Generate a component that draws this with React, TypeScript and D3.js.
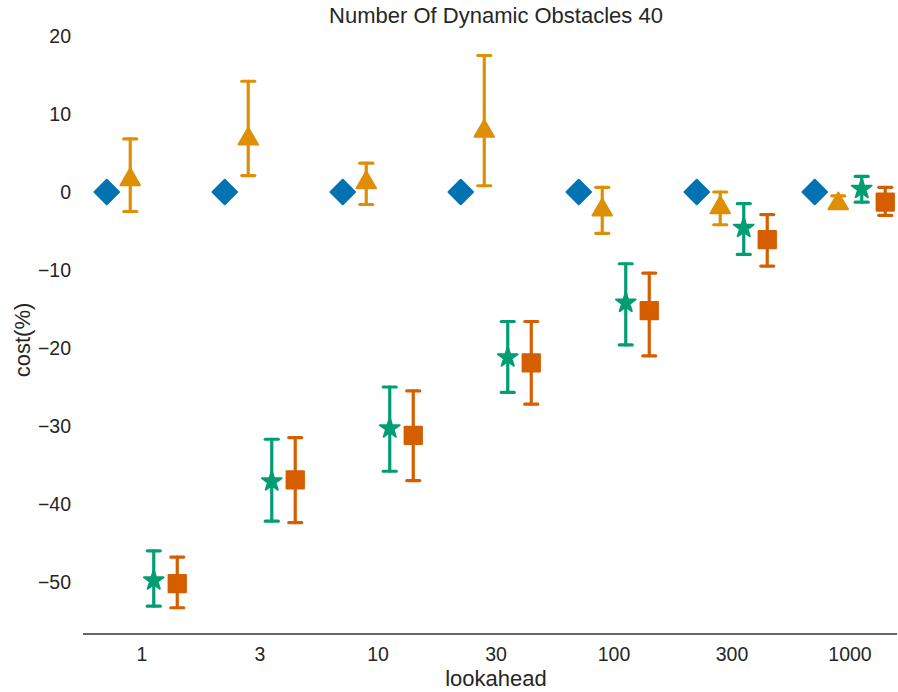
import React from "react";
import * as d3 from "d3";

const lookaheads = ["1", "3", "10", "30", "100", "300", "1000"];
const yTicks = [20, 10, 0, -10, -20, -30, -40, -50];

// mean, upper, lower per lookahead
const baseMean = [0, 0, 0, 0, 0, 0, 0];
const triMean = [1.6, 6.8, 1.2, 7.8, -2.3, -2.0, -1.5];
const triHi = [6.8, 14.2, 3.7, 17.5, 0.6, 0.0, -0.5];
const triLo = [-2.5, 2.1, -1.6, 0.8, -5.3, -4.2, -2.0];
const starMean = [-49.8, -37.1, -30.3, -21.2, -14.2, -4.6, 0.4];
const starHi = [-46.0, -31.7, -25.0, -16.6, -9.2, -1.5, 2.0];
const starLo = [-53.1, -42.2, -35.8, -25.7, -19.6, -8.0, -1.3];
const sqMean = [-50.2, -36.9, -31.2, -21.9, -15.2, -6.1, -1.3];
const sqHi = [-46.8, -31.5, -25.5, -16.6, -10.4, -2.9, 0.6];
const sqLo = [-53.3, -42.4, -37.0, -27.2, -21.0, -9.5, -3.0];

const W = 898;
const H = 692;
const left = 83;
const right = 909;
const top = 36;
const bottom = 582;

const series = [
  { name: "diamond", color: "#0173b2", mean: baseMean, hi: null, lo: null, sym: d3.symbolSquare, size: 300, rot: 45 },
  { name: "triangle", color: "#de8f05", mean: triMean, hi: triHi, lo: triLo, sym: d3.symbolTriangle, size: 165, rot: 0 },
  { name: "star", color: "#029e73", mean: starMean, hi: starHi, lo: starLo, sym: d3.symbolStar, size: 120, rot: 0 },
  { name: "square", color: "#d55e00", mean: sqMean, hi: sqHi, lo: sqLo, sym: d3.symbolSquare, size: 300, rot: 0 },
];

export default function App() {
  const x = d3.scaleBand<string>().domain(lookaheads).range([left, right]);
  const y = d3.scaleLinear().domain([20, -50]).range([top, bottom]);
  const dodge = 23.5;
  const font = "'Liberation Sans', Arial, sans-serif";
  const txt = "#262626";
  const midX = (left + right) / 2;

  return (
    <div style={{ position: "absolute", left: 0, top: 0 }}>
      <svg width={W} height={H} style={{ display: "block", background: "#fff" }} fontFamily={font}>
        <text x={midX} y={23} textAnchor="middle" fontSize={22} fill={txt}>
          Number Of Dynamic Obstacles 40
        </text>
        {yTicks.map((t) => (
          <text key={t} x={71} y={y(t)} dy="0.35em" textAnchor="end" fontSize={19.5} fill={txt}>
            {t < 0 ? "\u2212" + Math.abs(t) : String(t)}
          </text>
        ))}
        <text transform={`translate(30,${340}) rotate(-90)`} textAnchor="middle" fontSize={22} fill={txt}>
          cost(%)
        </text>
        <line x1={left} x2={897} y1={634} y2={634} stroke="#333" strokeWidth={1.5} />
        {lookaheads.map((l) => (
          <text key={l} x={x(l)! + x.bandwidth() / 2} y={661} textAnchor="middle" fontSize={19.5} fill={txt}>
            {l}
          </text>
        ))}
        <text x={midX} y={686} textAnchor="middle" fontSize={22} fill={txt}>
          lookahead
        </text>
        {series.map((s, si) => {
          const sym = d3.symbol().type(s.sym).size(s.size)()!;
          return (
            <g key={s.name}>
              {lookaheads.map((l, i) => {
                const cx = x(l)! + x.bandwidth() / 2 + (si - 1.5) * dodge;
                return (
                  <g key={l}>
                    {s.hi && s.lo && (
                      <g stroke={s.color} strokeWidth={3.2} strokeLinecap="round">
                        <line x1={cx} x2={cx} y1={y(s.hi[i])} y2={y(s.lo[i])} />
                        <line x1={cx - 6.5} x2={cx + 6.5} y1={y(s.hi[i])} y2={y(s.hi[i])} />
                        <line x1={cx - 6.5} x2={cx + 6.5} y1={y(s.lo[i])} y2={y(s.lo[i])} />
                      </g>
                    )}
                    <path
                      d={sym}
                      transform={`translate(${cx},${y(s.mean[i])}) rotate(${s.rot})`}
                      fill={s.color}
                      stroke={s.color}
                      strokeWidth={2}
                      strokeLinejoin="round"
                    />
                  </g>
                );
              })}
            </g>
          );
        })}
      </svg>
    </div>
  );
}
